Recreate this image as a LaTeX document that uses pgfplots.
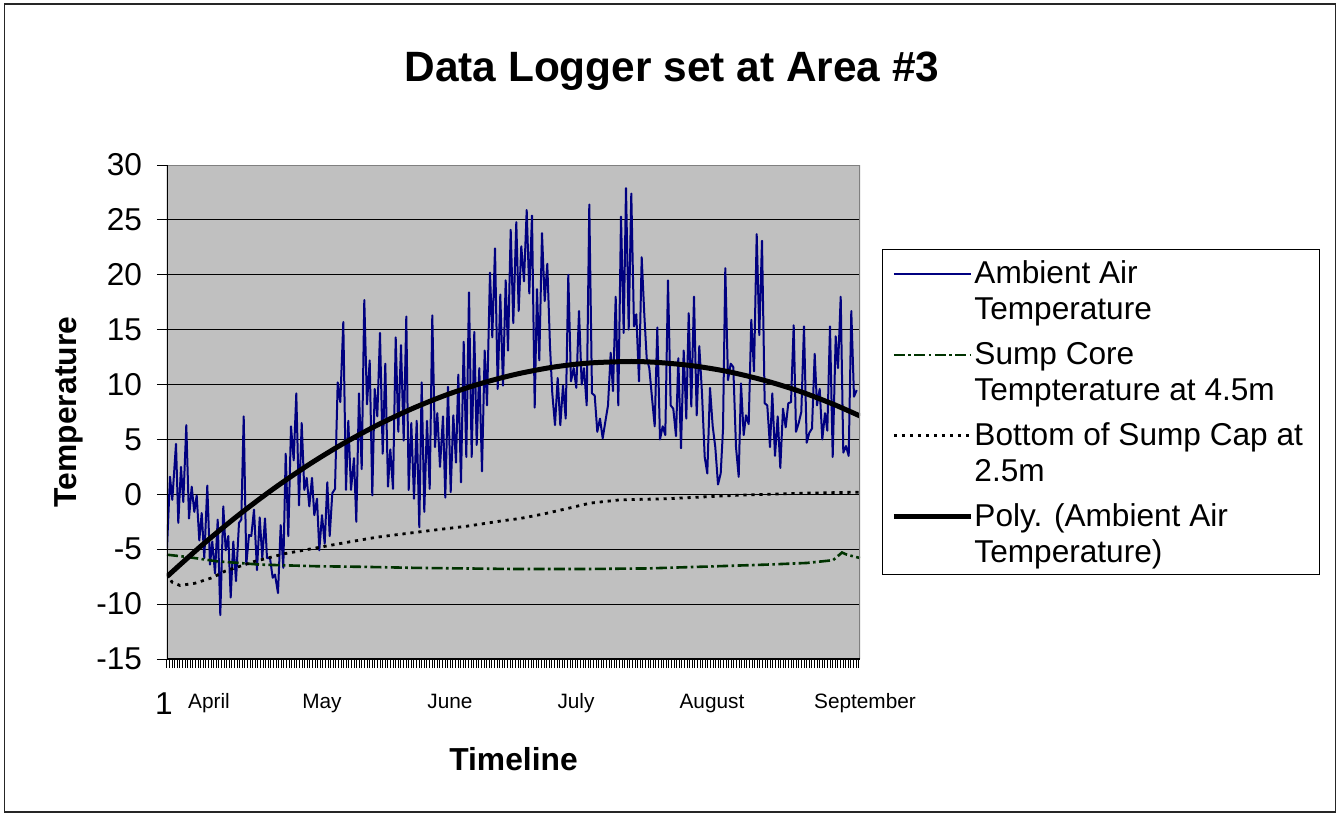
\documentclass[border=0pt]{standalone}
\usepackage{pgfplots}
\pgfplotsset{compat=1.18}
\usepackage{fontspec}
\setmainfont{Liberation Sans}
\definecolor{plotgray}{HTML}{C0C0C0}
\definecolor{navyblue}{HTML}{000080}
\definecolor{dkgreen}{HTML}{003300}
\definecolor{framegray}{HTML}{808080}
\newcommand\Ls{\rule{0pt}{14.5pt}}
\newcommand\Ld{\rule[-3.5pt]{0pt}{3.5pt}}
\begin{document}
\begin{tikzpicture}
\path[use as bounding box] (-83.5pt,-78.5pt) rectangle (586.5pt,329.5pt);
\begin{axis}[
  at={(0pt,0pt)}, anchor=south west,
  scale only axis, width=346.5pt, height=247pt,
  xmin=0, xmax=693, ymin=-15, ymax=30,
  axis background/.style={fill=plotgray},
  axis line style={draw=none},
  tick pos=left,
  ytick={-15,-10,...,30},
  yticklabels={-15,-10,-5,0,5,10,15,20,25,30},
  yticklabel style={font=\fontsize{15.8}{18}\selectfont, xshift=-4pt},
  ymajorgrids, grid style={black, line width=0.5pt},
  xtick={0,42,155,283,409,545,693},
  xticklabels={{\hspace*{-3pt}\raisebox{-3pt}{\fontsize{15.8}{18}\selectfont 1}},April,May,June,July,August,{September\hspace*{-5pt}}},
  xticklabel style={font=\fontsize{10.4}{12}\selectfont, anchor=base, yshift=-19.5pt},
  minor xtick={0,2.6,...,693},
  tick align=outside,
  major tick length=5pt, minor tick length=4.5pt,
  tick style={black, line width=0.5pt},
  major x tick style={draw=none},
  title={Data Logger set at Area \#3},
  title style={font=\bfseries\fontsize{21.2}{25}\selectfont, at={(axis description cs:0.7287,1.145)}, anchor=base},
  xlabel={Timeline},
  xlabel style={font=\bfseries\fontsize{15.9}{19}\selectfont, at={(axis description cs:0.5,-0.2247)}, anchor=base},
  ylabel={Temperature},
  ylabel style={font=\bfseries\fontsize{15.9}{19}\selectfont, at={(axis description cs:-0.1299,0.5)}, rotate=0, anchor=base},
  legend style={at={(1.0317,0.8300)}, anchor=north west, draw=black, line width=0.5pt, fill=white,
    inner xsep=4.5pt, inner ysep=0.25pt, row sep=0pt,
    cells={anchor=west, align=left},
    nodes={inner xsep=0pt, inner ysep=2.25pt, text depth={}},
    font=\fontsize{15.8}{18}\selectfont,
    /tikz/every odd column/.append style={column sep=0.5pt}},
  legend image code/.code={\draw[#1] (0pt,8.3pt) -- (38.5pt,8.3pt);},
]
\addplot[navyblue, line width=1pt, line join=round] coordinates {
(0,-4.9)(3.0,1.6)(5.3,-0.5)(9.0,4.6)(11.3,-2.6)(14.0,2.5)(16.3,-0.7)(19.3,6.3)(22.0,-2.2)(24.7,0.7)(27.3,-1.6)(29.7,-0.1)(32.3,-4.2)(34.7,-1.7)(37.3,-5.8)(40.3,0.8)(43.0,-6.4)(45.3,-4.3)(48.0,-7.2)(50.7,-2.3)(53.3,-11.0)(56.3,-1.1)(58.7,-5.1)(61.3,-3.8)(63.7,-9.4)(66.3,-4.3)(69.0,-7.9)(72.0,-2.6)(74.3,-2.3)(76.7,7.1)(79.3,-6.4)(82.0,-3.7)(84.3,-3.8)(87.0,-1.4)(90.0,-6.9)(92.7,-2.1)(95.3,-5.8)(98.0,-2.2)(100.0,-5.8)(103.0,-5.8)(105.7,-7.6)(108.0,-7.3)(111.0,-9.0)(113.7,-2.8)(116.3,-6.7)(118.7,3.7)(121.3,-3.8)(124.0,6.2)(126.7,3.1)(129.3,9.2)(132.0,-1.0)(134.7,6.5)(137.3,0.4)(139.7,1.5)(142.3,-1.1)(145.0,1.5)(147.3,-1.9)(150.0,-0.4)(152.3,-5.1)(155.0,-1.9)(157.7,-4.5)(160.3,1.1)(162.7,-3.8)(165.3,0.1)(168.0,0.5)(170.7,10.2)(173.3,8.4)(176.3,15.7)
(179.0,0.4)(181.3,6.7)(184.0,0.4)(187.0,3.3)(189.3,-2.5)(192.0,9.2)(194.7,2.3)(197.3,17.7)(200.0,8.2)(202.7,12.2)(205.3,-0.1)(207.7,9.6)(210.3,7.1)(213.0,14.7)(215.7,3.7)(218.3,11.9)(221.0,0.7)(223.3,4.1)(226.0,0.5)(228.7,14.3)(231.3,5.7)(234.0,13.6)(236.7,4.9)(239.3,16.2)(241.7,0.4)(244.3,6.5)(247.0,-0.4)(249.7,6.7)(252.3,-3.0)(254.7,10.2)(257.3,-1.6)(260.0,6.7)(262.7,0.5)(265.3,16.3)(268.0,4.3)(270.3,7.4)(273.0,2.5)(276.0,7.1)(278.3,-0.3)(281.0,9.8)(283.7,0.2)(286.3,7.2)(289.0,2.9)(291.3,10.9)(294.0,1.1)(296.7,13.9)(299.3,3.4)(302.0,18.4)(304.7,3.4)(307.3,14.8)(309.7,4.5)(312.3,11.5)(315.0,2.1)(317.7,13.1)(320.0,8.1)(323.0,20.2)(325.3,14.3)(328.0,22.4)(330.7,9.6)(333.3,18.2)(336.0,9.9)(338.7,19.5)(341.0,13.1)(343.7,24.1)(346.3,15.6)(349.3,24.8)
(351.7,16.7)(354.3,22.6)(357.0,19.4)(359.7,25.9)(362.3,18.3)(365.0,25.4)(367.7,7.9)(370.0,18.7)(372.3,12.2)(375.0,23.8)(377.7,17.6)(380.3,21.0)(383.0,13.5)(385.3,9.2)(388.0,6.3)(390.7,10.6)(393.3,6.3)(396.0,9.9)(398.7,6.9)(401.3,20.0)(404.0,10.3)(406.7,11.5)(409.3,9.7)(412.0,16.7)(414.7,10.0)(417.0,11.5)(419.7,8.1)(422.3,26.4)(425.0,9.2)(427.7,9.0)(430.3,5.7)(433.0,6.9)(435.7,5.1)(438.3,6.6)(441.0,8.1)(443.7,12.9)(446.0,9.4)(448.7,18.0)(451.3,8.1)(454.0,25.3)(456.7,14.7)(459.0,27.9)(461.7,15.0)(464.3,27.4)(467.0,15.3)(469.3,16.4)(472.0,10.3)(474.7,21.6)(477.3,16.4)(479.7,12.4)(482.3,11.5)(485.0,8.8)(487.7,6.2)(490.3,15.2)(493.0,5.0)(495.7,6.2)(498.3,5.4)(501.0,19.5)(503.7,8.1)(506.3,7.8)(509.0,5.3)(511.3,12.4)(514.0,4.2)(516.7,13.1)(519.3,6.9)(521.7,16.5)(524.3,8.0)
(527.0,18.0)(529.7,7.2)(532.3,13.5)(535.0,9.2)(537.7,3.4)(540.3,1.9)(543.0,9.7)(545.7,6.2)(548.3,4.3)(551.0,0.9)(553.7,1.9)(556.0,5.9)(558.3,20.6)(561.0,10.4)(563.7,11.9)(566.3,11.6)(569.0,4.3)(571.7,1.6)(574.0,10.1)(576.7,5.4)(579.0,7.2)(581.7,6.4)(584.3,15.9)(587.0,11.2)(589.7,23.7)(592.3,14.5)(595.0,23.1)(597.7,8.3)(600.3,8.1)(603.0,4.3)(605.3,9.2)(608.0,3.5)(610.7,7.1)(613.3,2.4)(616.0,7.8)(618.7,6.1)(621.3,8.3)(624.0,8.4)(626.7,15.4)(629.0,5.7)(631.7,6.5)(634.3,7.5)(637.0,15.3)(639.7,4.7)(642.3,5.6)(645.0,6.0)(647.7,12.8)(650.0,8.1)(652.7,9.6)(655.3,5.0)(658.0,7.4)(660.3,5.8)(663.0,15.3)(665.7,3.4)(668.7,14.4)(671.0,11.5)(673.7,18.0)(676.3,3.8)(679.0,4.4)(681.7,3.5)(684.3,16.7)(687.0,8.9)(689.7,9.5)
};
\addlegendentry{\Ls Ambient Air\\Temperature\Ld}
\addplot[dkgreen, line width=1.3pt, dash pattern=on 5.5pt off 1.7pt on 1.3pt off 1.7pt] coordinates {
(0,-5.5)(20,-5.7)(50,-6.1)(93,-6.4)(150,-6.55)(193,-6.6)(250,-6.7)(346,-6.8)(420,-6.8)(480,-6.75)(550,-6.55)(600,-6.4)(640,-6.25)(666,-6.0)(675,-5.3)(680,-5.5)(693,-5.8)
};
\addlegendentry{\Ls Sump Core\\Tempterature at 4.5m\Ld}
\addplot[black, line width=1.4pt, dash pattern=on 1.6pt off 2.4pt] coordinates {
(0,-7.2)(5,-8.0)(13,-8.3)(28,-8.1)(45,-7.6)(58,-7.0)(88,-6.1)(118,-5.4)(148,-4.9)(178,-4.4)(210,-3.9)(263,-3.3)(300,-2.9)(336,-2.4)(353,-2.2)(376,-1.8)(400,-1.3)(423,-0.8)(453,-0.5)(500,-0.4)(566,-0.1)(633,0.1)(693,0.2)
};
\addlegendentry{\Ls Bottom of Sump Cap at\hspace*{4pt}\\2.5m\Ld}
\addplot[black, line width=2.5pt, smooth] coordinates {
(0,-7.49)(35,-4.63)(70,-2.00)(105,0.41)(140,2.60)(175,4.56)(210,6.29)(245,7.80)(280,9.08)(315,10.13)(350,10.96)(385,11.57)(420,11.95)(461,12.10)(490,12.02)(525,11.72)(560,11.20)(595,10.44)(630,9.47)(665,8.26)(693,7.14)
};
\addlegendentry{\Ls Poly. (Ambient Air\\Temperature)\Ld}
\draw[framegray, line width=0.75pt] (rel axis cs:0,1) -- (rel axis cs:1,1) -- (rel axis cs:1,0);
\draw[black, line width=0.75pt] (rel axis cs:0,1) -- (rel axis cs:0,0) -- (rel axis cs:1,0);
\end{axis}
\draw[line width=0.75pt, black!85] (-81.25pt,-76.5pt) rectangle (584.25pt,327.5pt);
\end{tikzpicture}
\end{document}
